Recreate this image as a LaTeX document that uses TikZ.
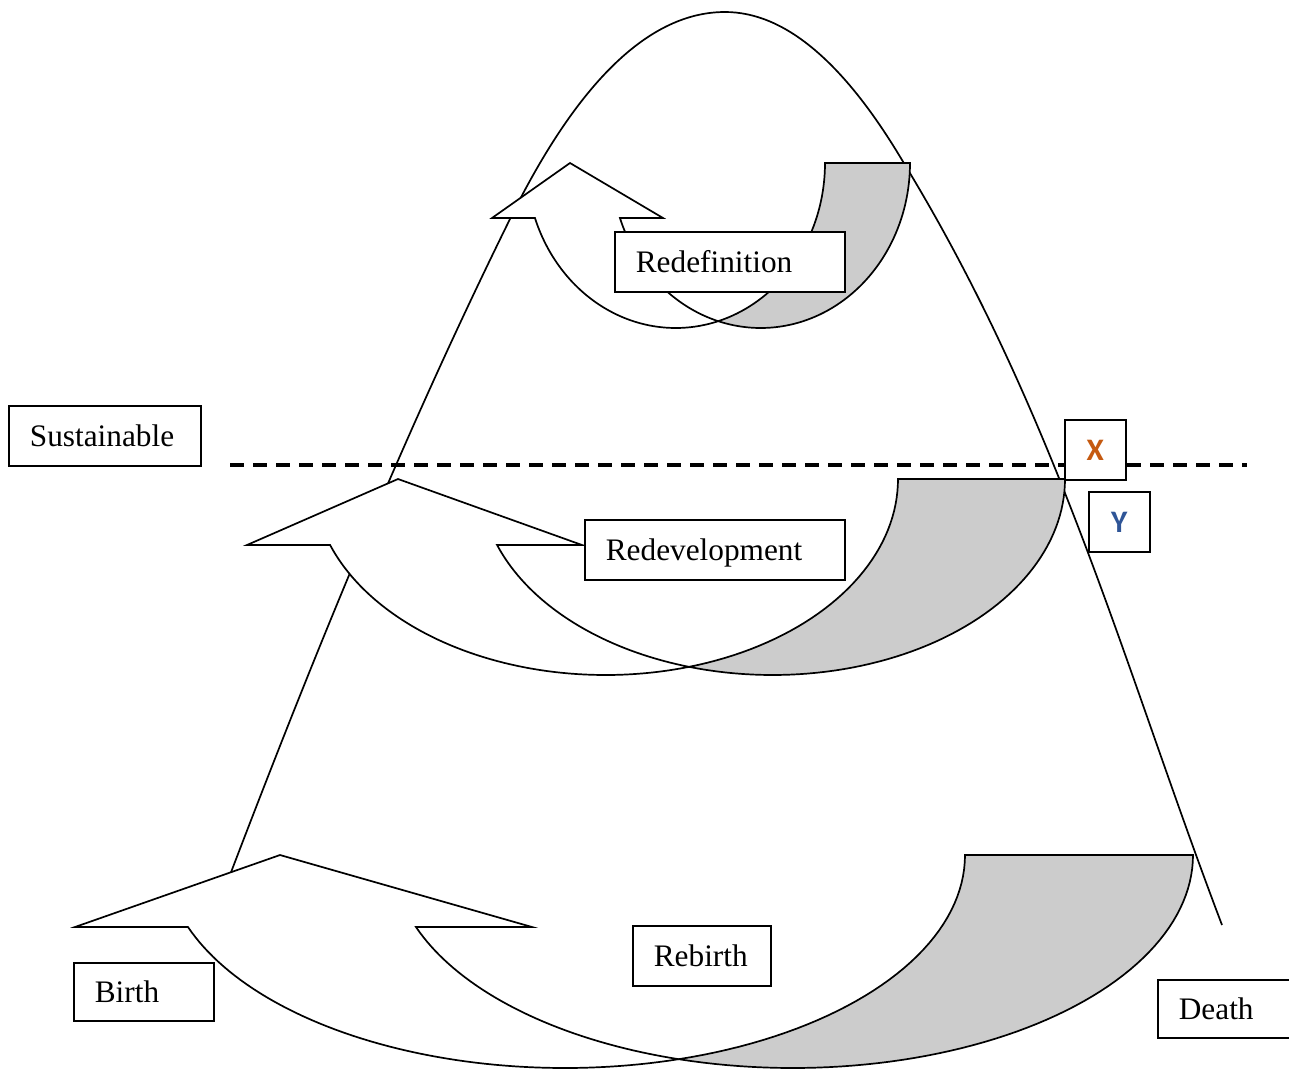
\documentclass[tikz,border=0pt]{standalone}
\usepackage{fontspec}
\setmainfont{Liberation Serif}
\newfontfamily\xyfont{Carlito}
\definecolor{bandgray}{HTML}{CCCCCC}
\definecolor{xorange}{HTML}{C55A11}
\definecolor{yblue}{HTML}{2F5597}

\tikzset{
	band/.style={draw=black, fill=bandgray, line width=1.7pt},
	shaft/.style={draw=black, fill=white, line width=1.7pt},
	stage/.style={draw, fill=white, line width=1.7pt, anchor=north west, align=left,
		text width=#1, inner xsep=21pt, minimum height=60pt, text height=26pt, text depth=4pt,
		font=\fontsize{31.3pt}{36pt}\selectfont},
	tag/.style={draw, fill=white, line width=1.7pt, anchor=north west, minimum width=61pt,
		minimum height=60pt, font=\xyfont\bfseries\fontsize{31.3pt}{36pt}\selectfont},
	lifecycle/.style={line width=1.7pt},
	threshold/.style={line width=3.3pt, dash pattern=on 14pt off 9pt}
}

% top y, y radius, x radius, centre x, band width, head base y, left wing, tip, right wing
\newcommand{\curvedup}[9]{%
	\pgfmathsetmacro{\cutA}{acos(#5/(2*#3))}
	\pgfmathsetmacro{\cutB}{180-\cutA}
	\pgfmathsetmacro{\headA}{180-asin((#6-#1)/#2)}
	\filldraw[band] plot[domain=0:\cutA, samples=40] ({#4+#3*cos(\x)},{#1+#2*sin(\x)})
		-- plot[domain=\cutB:0, samples=60] ({#4+#5+#3*cos(\x)},{#1+#2*sin(\x)}) -- cycle;
	\filldraw[shaft] plot[domain=\headA:\cutA, samples=60] ({#4+#3*cos(\x)},{#1+#2*sin(\x)})
		-- plot[domain=\cutB:\headA, samples=40] ({#4+#5+#3*cos(\x)},{#1+#2*sin(\x)})
		-- (#9,#6) -- (#8,#1) -- (#7,#6) -- cycle;
}

\begin{document}
\begin{tikzpicture}[x=1pt, y=-1pt]
	\useasboundingbox (0,0) rectangle (1289,1069);
	\clip (0,0) rectangle (1289,1069);

	\coordinate (lifeL) at (225,888);
	\coordinate (lifeLU) at (510,219);
	\coordinate (lifeTop) at (725,12);
	\coordinate (lifeRU) at (902,160);
	\coordinate (lifeR) at (1222,925);
	\draw[lifecycle] (lifeL) .. controls (310,665) and (400,442) .. (lifeLU)
		.. controls (578,81) and (650,12) .. (lifeTop)
		.. controls (784,12) and (843,61) .. (lifeRU)
		.. controls (1058,415) and (1125,670) .. (lifeR);

	\coordinate (dashL) at (230,465);
	\coordinate (dashR) at (1247,465);
	\draw[threshold] (dashL) -- (dashR);

	\curvedup{855}{213}{400.3}{564.7}{228}{927}{75}{280}{532}
	\curvedup{479}{196}{292.5}{605.5}{167}{545}{247}{398}{582}
	\curvedup{163}{165}{149.3}{675.7}{85}{218}{492}{570}{663}

	\node[stage=150pt] (sust) at (8,405) {Sustainable};
	\node[stage=188pt] (redef) at (614,231) {Redefinition};
	\node[stage=218pt] (redev) at (584,519) {Redevelopment};
	\node[stage=98pt, minimum height=58pt] (birth) at (73,962) {Birth};
	\node[stage=96pt] (rebirth) at (632,925) {Rebirth};
	\node[stage=98pt, minimum height=58pt] (death) at (1157,979) {Death};

	\node[tag, text=xorange] (xbox) at (1064,419) {X};
	\node[tag, text=yblue] (ybox) at (1088,491) {Y};
\end{tikzpicture}
\end{document}
